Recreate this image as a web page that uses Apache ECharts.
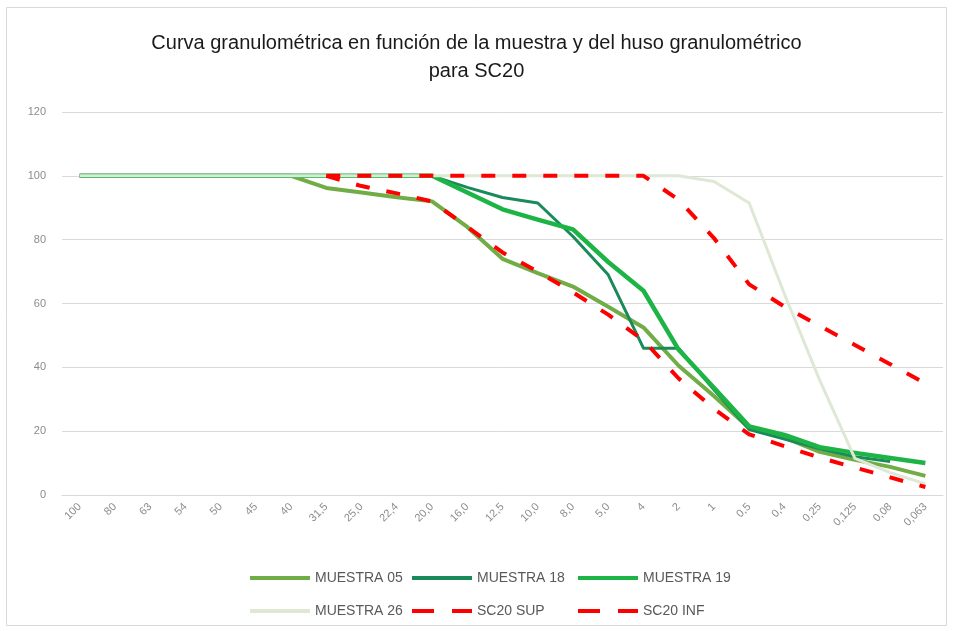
<!DOCTYPE html>
<html>
<head>
<meta charset="utf-8">
<script src="https://cdn.jsdelivr.net/npm/echarts@6/dist/echarts.min.js"></script>
<style>
html,body{margin:0;padding:0;background:#fff;}
#chart{width:953px;height:631px;}
</style>
</head>
<body>
<div id="chart"></div>
<script>
const categories = ['100','80','63','54','50','45','40','31,5','25,0','22,4','20,0','16,0','12,5','10,0','8,0','5,0','4','2','1','0,5','0,4','0,25','0,125','0,08','0,063'];
const muestra05 = [100,100,100,100,100,100,100,96.2,94.8,93.3,92,84,74,69.5,65.3,59,52.5,40.5,31,21,18,13.5,11,8.8,6];
const muestra18 = [100,100,100,100,100,100,100,100,100,100,100,96.4,93.2,91.5,81,69,46,46,33,20.5,17.5,14.5,12,10.5,null];
const muestra19 = [100,100,100,100,100,100,100,100,100,100,100,94.8,89.5,86.3,83.2,73,64,45.5,33.6,21.5,18.8,15,13.2,11.6,10];
const muestra26 = [100,100,100,100,100,100,100,100,100,100,100,100,100,100,100,100,100,100,98.2,91.5,63,36,11.5,7,3.5];
const sc20Sup = [null,null,null,null,null,null,null,100,100,100,100,100,100,100,100,100,100,92.5,80.5,66,59,53,47,41,35];
const sc20Inf = [null,null,null,null,null,null,null,100,96.8,94.5,92,84,76,70,63.5,56.5,48.5,36.5,27,19,15.3,11.7,8.6,5.5,2.5];
const yTicks = {min: 0, max: 120, interval: 20};

const chart = echarts.init(document.getElementById('chart'));
const legendText = {color: '#595959', fontSize: 14, fontFamily: 'Liberation Sans'};
const solidIcon = 'path://M0,0H60V4H0Z';
const dashIcon = 'path://M0,0H22V4H0Z M40,0H60V4H40Z';
function leg(name, left, top, icon) {
  return {data: [{name: name, icon: icon}], left: left, top: top, itemWidth: 60, itemHeight: 4, itemGap: 5,
          textStyle: legendText, selectedMode: false};
}
function ser(name, data, color, width, dashed) {
  return {name: name, type: 'line', data: data, symbol: 'none', connectNulls: false,
          lineStyle: {color: color, width: width, type: dashed ? [14, 17] : 'solid', cap: 'butt', join: 'round'},
          itemStyle: {color: color}};
}
chart.setOption({
  animation: false,
  backgroundColor: '#fff',
  title: {
    text: 'Curva granulométrica en función de la muestra y del huso granulométrico\npara SC20',
    left: 'center', top: 24,
    textStyle: {fontFamily: 'Liberation Sans', fontSize: 20, fontWeight: 'normal', color: '#1a1a1a', lineHeight: 28}
  },
  graphic: [{type: 'rect', shape: {x: 6.5, y: 7.5, width: 940, height: 618},
             style: {fill: 'none', stroke: '#d9d9d9', lineWidth: 1}, silent: true}],
  legend: [
    leg('MUESTRA 05', 245, 566, solidIcon), leg('MUESTRA 18', 407, 566, solidIcon), leg('MUESTRA 19', 573, 566, solidIcon),
    leg('MUESTRA 26', 245, 599, solidIcon), leg('SC20 SUP', 407, 599, dashIcon), leg('SC20 INF', 573, 599, dashIcon)
  ],
  grid: {left: 62, right: 10, top: 112, bottom: 136, containLabel: false},
  xAxis: {
    type: 'category', data: categories, boundaryGap: true,
    axisLine: {show: true, lineStyle: {color: '#d9d9d9'}},
    axisTick: {show: false},
    axisLabel: {rotate: 45, color: '#8c8c8c', fontSize: 11, fontFamily: 'Liberation Sans', margin: 10, interval: 0}
  },
  yAxis: {
    type: 'value', min: yTicks.min, max: yTicks.max, interval: yTicks.interval,
    axisLine: {show: false}, axisTick: {show: false},
    axisLabel: {color: '#8c8c8c', fontSize: 11, fontFamily: 'Liberation Sans', margin: 16},
    splitLine: {lineStyle: {color: '#d9d9d9', width: 1}}
  },
  series: [
    ser('MUESTRA 05', muestra05, '#70AD47', 4, false),
    ser('MUESTRA 18', muestra18, '#1B8A5A', 3, false),
    ser('MUESTRA 19', muestra19, '#1DB446', 4.5, false),
    ser('MUESTRA 26', muestra26, '#DDE8D5', 3, false),
    ser('SC20 SUP', sc20Sup, '#FF0000', 4, true),
    ser('SC20 INF', sc20Inf, '#FF0000', 4, true)
  ]
});
</script>
</body>
</html>
